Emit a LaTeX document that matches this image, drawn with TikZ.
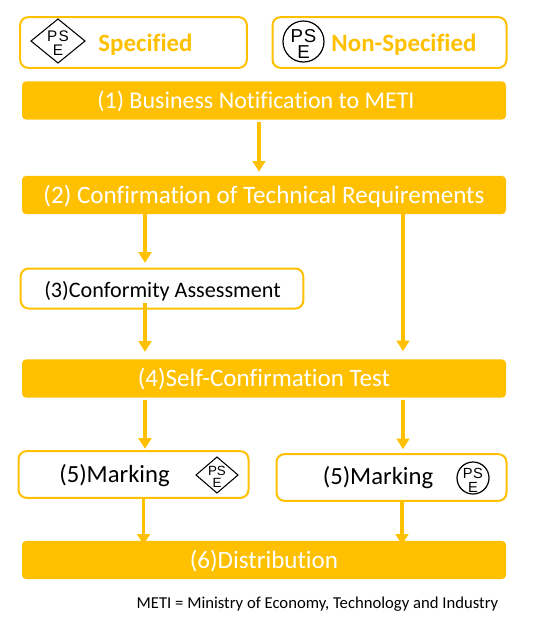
\documentclass[tikz,border=0pt]{standalone}
\usepackage{fontspec}
\setmainfont{Carlito}[Ligatures=NoCommon]
\newfontfamily\psefont{Liberation Sans}
\usetikzlibrary{arrows.meta,shapes.geometric}
\definecolor{amber}{RGB}{255,192,0}
\tikzset{
  x=0.75pt,y=-0.75pt,
  bar/.style={fill=amber,draw=none,rounded corners=3pt,inner sep=0,minimum height=28.6pt,minimum width=363pt},
  outlined/.style={draw=amber,line width=1.5pt,fill=white,rounded corners=6pt,inner sep=0},
  bartext/.style={inner sep=0,text=white,font=\fontsize{18.8}{20}\selectfont},
  hdtext/.style={inner sep=0,text=amber,font=\fontsize{18.7}{20}\selectfont\bfseries},
  flow/.style={draw=amber,line width=2.6pt,-{Triangle[width=9.5pt,length=8pt,fill=amber]}},
}
\newcommand{\psediamond}[8]{% name, cx, cy, halfw, halfh, fontsize, dy top, dy E
  \draw[black,line width=0.8pt] (#2-#4,#3) coordinate (#1w) -- (#2,#3-#5) -- (#2+#4,#3) -- (#2,#3+#5) -- cycle;
  \node[inner sep=0,font=\psefont\fontsize{#6}{#6}\selectfont] (#1p) at (#2-0.21*#4,#3-#7) {P};
  \node[inner sep=0,font=\psefont\fontsize{#6}{#6}\selectfont] (#1s) at (#2+0.21*#4,#3-#7) {S};
  \node[inner sep=0,font=\psefont\fontsize{#6}{#6}\selectfont] (#1e) at (#2,#3+#8) {E};
}
\newcommand{\psecircle}[7]{% name, cx, cy, r, fontsize, dy top, dy E
  \node[circle,draw=black,line width=0.9pt,inner sep=0,minimum size=#4*1.5pt] (#1) at (#2,#3) {};
  \node[inner sep=0,font=\psefont\fontsize{#5}{#5}\selectfont] (#1p) at (#2-0.32*#4,#3-#6) {P};
  \node[inner sep=0,font=\psefont\fontsize{#5}{#5}\selectfont] (#1s) at (#2+0.32*#4,#3-#6) {S};
  \node[inner sep=0,font=\psefont\fontsize{#5}{#5}\selectfont] (#1e) at (#2,#3+#7) {E};
}
\begin{document}
\begin{tikzpicture}
\useasboundingbox (0,0) rectangle (541,619);
% header boxes
\node[outlined,minimum width=170pt,minimum height=38pt] (spec) at (133.5,42.5) {};
\node[outlined,minimum width=175.5pt,minimum height=38pt] (nons) at (389.5,42.5) {};
\node[hdtext] (spect) at (145.5,45) {Specified};
\node[hdtext] (nonst) at (404,45) {Non-Specified};
\psediamond{d1}{58}{41}{27}{22}{11.5}{5}{9.5}
\psecircle{c1}{303.5}{41.5}{20.5}{14}{5.5}{11}
% main bars
\node[bar] (n1) at (264,100.5) {};
\node[bartext,font=\fontsize{18}{20}\selectfont] (n1t) at (256,101) {(1) Business Notification to METI};
\node[bar] (n2) at (264,195) {};
\node[bartext] (n2t) at (264,196) {(2) Confirmation of Technical Requirements};
\node[outlined,minimum width=212pt,minimum height=30pt] (n3) at (162,288.5) {};
\node[inner sep=0,font=\fontsize{16.6}{18}\selectfont] (n3t) at (162.5,291) {(3)Conformity Assessment};
\node[bar] (n4) at (264,378.5) {};
\node[bartext] (n4t) at (264,379) {(4)Self-Confirmation Test};
% marking boxes
\node[outlined,minimum width=172.5pt,minimum height=35pt] (m1) at (133.5,474.5) {};
\node[inner sep=0,font=\fontsize{18.5}{20}\selectfont] (m1t) at (114.5,476) {(5)Marking};
\psediamond{d2}{217}{475}{21}{18}{10}{4.5}{7.5}
\node[outlined,minimum width=172.5pt,minimum height=35pt] (m2) at (391.5,477.5) {};
\node[inner sep=0,font=\fontsize{18.5}{20}\selectfont] (m2t) at (378,478) {(5)Marking};
\psecircle{c2}{473}{478}{16}{11}{5}{9.5}
\node[bar] (n6) at (264,560) {};
\node[bartext] (n6t) at (264,561) {(6)Distribution};
\node[inner sep=0,font=\fontsize{12.5}{14}\selectfont] (note) at (317.5,604) {METI = Ministry of Economy, Technology and Industry};
% connectors
\coordinate (xa) at (259,0);
\coordinate (xb) at (145,0);
\coordinate (xc) at (403,0);
\coordinate (xd) at (143.5,0);
\coordinate (xe) at (402,0);
\draw[flow,shorten <=1.5pt,shorten >=3pt] (n1.south -| xa) -- (n2.north -| xa);
\draw[flow,shorten >=3.5pt] (n2.south -| xb) -- (n3.north -| xb);
\draw[flow,shorten >=6pt] (n2.south -| xc) -- (n4.north -| xc);
\draw[flow,shorten <=-5pt,shorten >=5.5pt] (n3.south -| xb) -- (n4.north -| xb);
\draw[flow,shorten <=1.5pt,shorten >=1pt] (n4.south -| xb) -- (m1.north -| xb);
\draw[flow,shorten <=1.5pt,shorten >=3pt] (n4.south -| xc) -- (m2.north -| xc);
\draw[flow,shorten <=-1pt,shorten >=-3pt] (m1.south -| xd) -- (n6.north -| xd);
\draw[flow,shorten <=-1pt,shorten >=-3pt] (m2.south -| xe) -- (n6.north -| xe);
\end{tikzpicture}
\end{document}
